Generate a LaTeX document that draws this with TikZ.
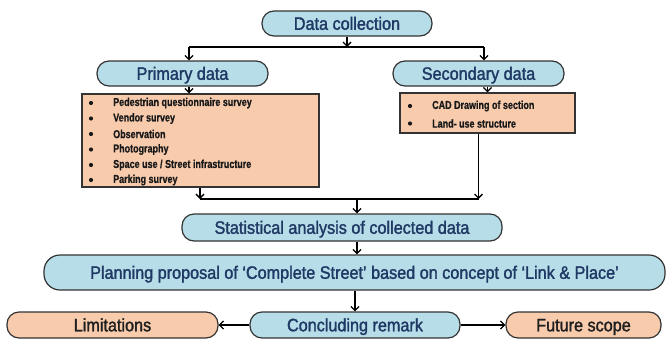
\documentclass[tikz,border=0pt]{standalone}
\usepackage{fontspec}
\setmainfont{Liberation Sans}[FakeStretch=0.9, FakeBold=1.6]
\newfontfamily\itemfont{Liberation Sans}[FakeStretch=0.78, BoldFeatures={FakeBold=0.8}]
\usetikzlibrary{arrows.meta}
\definecolor{lblue}{HTML}{B7DEE8}
\definecolor{peach}{HTML}{F8CBAD}
\definecolor{navy}{HTML}{1F3864}
\definecolor{edgegray}{HTML}{333333}
\begin{document}
\begin{tikzpicture}[x=1pt,y=-1pt,
 pill/.style={draw=edgegray, line width=1.2pt, rounded corners=12pt, inner sep=0pt,
   font=\fontsize{18}{20}\selectfont, text=navy, text height=12.6pt, text depth=0pt},
 bluepill/.style={pill, fill=lblue},
 peachpill/.style={pill, fill=peach, text=black!88},
 listbox/.style={draw=edgegray, line width=1.2pt, fill=peach, inner sep=0pt},
 itemtext/.style={anchor=west, inner sep=0pt, font=\itemfont\bfseries\fontsize{11.5}{13}\selectfont, text=black!90},
 bulletdot/.style={fill=black!90},
 conn/.style={line width=1.3pt, -{Straight Barb[length=4pt,width=8pt,line width=1.3pt]}},
 plainline/.style={line width=1.3pt}]
\useasboundingbox (0,0) rectangle (666,343);

% nodes
\node[bluepill, minimum width=170pt, minimum height=25pt] (dc) at (347,23.5) {Data collection};
\node[bluepill, minimum width=171pt, minimum height=25pt] (pd) at (182.5,73.5) {Primary data};
\node[bluepill, minimum width=171pt, minimum height=25pt] (sd) at (478.5,73.5) {Secondary data};
\node[listbox, minimum width=237pt, minimum height=93pt] (pb) at (200.5,140.5) {};
\node[listbox, minimum width=175pt, minimum height=40pt] (sb) at (487.5,113) {};
\node[bluepill, minimum width=320pt, minimum height=27pt] (st) at (342,227.5) {Statistical analysis of collected data};
\node[bluepill, rounded corners=16pt, minimum width=621pt, minimum height=35pt] (pl) at (354.5,272.5)
  {Planning proposal of ‘Complete Street’ based on concept of ‘Link \& Place’};
\node[peachpill, minimum width=211pt, minimum height=26pt] (lim) at (112.5,325) {Limitations};
\node[bluepill, minimum width=210pt, minimum height=26pt] (cr) at (355,325) {Concluding remark};
\node[peachpill, minimum width=155pt, minimum height=26pt] (fs) at (583.5,325) {Future scope};

% list items
\foreach \yy in {103,118.5,134,149.5,165,180} \fill[bulletdot] (91,\yy) circle (2.1pt);
\foreach \yy in {106,123.5} \fill[bulletdot] (410,\yy) circle (2.1pt);
\node[itemtext] (p1) at (113,103) {Pedestrian questionnaire survey};
\node[itemtext] (p2) at (113,118.5) {Vendor survey};
\node[itemtext] (p3) at (113,134) {Observation};
\node[itemtext] (p4) at (113,149.5) {Photography};
\node[itemtext] (p5) at (113,165) {Space use / Street infrastructure};
\node[itemtext] (p6) at (113,180) {Parking survey};
\node[itemtext] (s1) at (432,106) {CAD Drawing of section};
\node[itemtext] (s2) at (432,123.5) {Land- use structure};

% junction coordinates
\coordinate (j1) at (347,47);
\coordinate (jl) at (189,47);
\coordinate (jr) at (484,47);
\coordinate (j2l) at (200,199);
\coordinate (j2r) at (478.5,199);
\coordinate (j2m) at (357,199);

% connectors
\draw[conn] (dc.south) -- (j1);
\draw[plainline] (jl) -- (jr);
\draw[conn] (jl) -- (jl |- pd.north);
\draw[conn] (jr) -- (jr |- sd.north);
\draw[conn] (jl |- pd.south) -- (jl |- pb.north);
\draw[conn] (sb.north |- sd.south) -- (sb.north);
\draw[conn] (j2l |- pb.south) -- (j2l);
\draw[conn] (j2r |- sb.south) -- (j2r);
\draw[plainline] (j2l) -- (j2r);
\draw[conn] (j2m) -- (j2m |- st.north);
\draw[conn] (j2m |- st.south) -- (j2m |- pl.north);
\draw[conn] (cr.north |- pl.south) -- (cr.north);
\draw[conn] (cr.west) -- (lim.east);
\draw[conn] (cr.east) -- (fs.west);
\end{tikzpicture}
\end{document}
